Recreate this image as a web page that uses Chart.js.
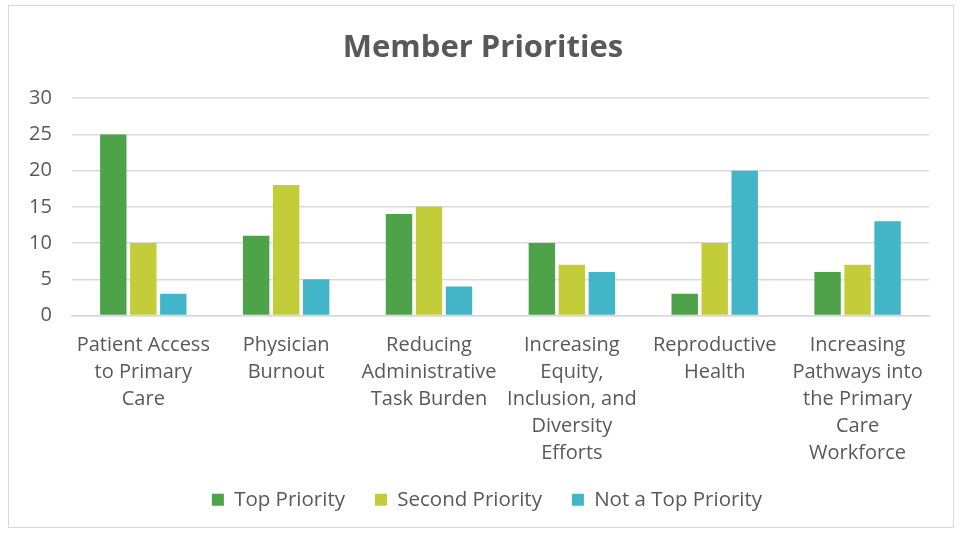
<!DOCTYPE html>
<html><head><meta charset="utf-8">
<script src="https://cdn.jsdelivr.net/npm/chart.js@4"></script>
<style>
html,body{margin:0;padding:0;background:#fff;}
#wrap{position:absolute;left:8px;top:5px;width:946px;height:523px;border:1px solid #d9d9d9;box-sizing:border-box;}
</style></head><body>
<div id="wrap"><canvas id="c"></canvas></div>
<script>
const categories = [
  ["Patient Access","to Primary","Care"],
  ["Physician","Burnout"],
  ["Reducing","Administrative","Task Burden"],
  ["Increasing","Equity,","Inclusion, and","Diversity","Efforts"],
  ["Reproductive","Health"],
  ["Increasing","Pathways into","the Primary","Care","Workforce"]
];
const topPriority = [25, 11, 14, 10, 3, 6];
const secondPriority = [10, 18, 15, 7, 10, 7];
const notTopPriority = [3, 5, 4, 6, 20, 13];
const yTicks = [0, 5, 10, 15, 20, 25, 30];

const txt = '#595959';
const shiftBlocks = {
  id: 'shiftBlocks',
  afterLayout(chart) {
    const lg = chart.legend;
    if (lg) { lg.left += 18; lg.right += 18; }
    const tb = chart.titleBlock;
    if (tb) { tb.left += 14; tb.right += 14; }
  }
};
new Chart(document.getElementById('c'), {
  type: 'bar',
  data: {
    labels: categories,
    datasets: [
      {label: 'Top Priority', data: topPriority, backgroundColor: '#4EA24A'},
      {label: 'Second Priority', data: secondPriority, backgroundColor: '#C3CD3A'},
      {label: 'Not a Top Priority', data: notTopPriority, backgroundColor: '#42B5C6'}
    ]
  },
  plugins: [shiftBlocks],
  options: {
    responsive: true,
    maintainAspectRatio: false,
    animation: false,
    layout: {padding: {left: 0, right: 24, top: 8, bottom: 7}},
    datasets: {bar: {categoryPercentage: 0.63, barPercentage: 0.88}},
    plugins: {
      title: {display: true, text: 'Member Priorities', color: txt,
        font: {family: 'Open Sans', size: 31, weight: 'bold'}, padding: {top: 16, bottom: 31}},
      legend: {position: 'bottom', labels: {color: txt, boxWidth: 12, boxHeight: 12, padding: 30,
        font: {family: 'Open Sans', size: 20.5}}},
      tooltip: {enabled: false}
    },
    scales: {
      y: {min: 0, max: 30, afterBuildTicks: (a) => { a.ticks = yTicks.map(v => ({value: v})); },
        border: {display: false},
        grid: {color: '#d9d9d9', drawTicks: false, lineWidth: 1.5},
        ticks: {color: txt, padding: 20, font: {family: 'Open Sans', size: 20}}},
      x: {grid: {display: false}, border: {color: '#d9d9d9', width: 1.5},
        afterFit: (s) => { s.height -= 15; },
        ticks: {color: txt, maxRotation: 0, autoSkip: false, padding: 8,
          font: {family: 'Open Sans', size: 20, lineHeight: 1.35}}}
    }
  }
});
</script>
</body></html>
